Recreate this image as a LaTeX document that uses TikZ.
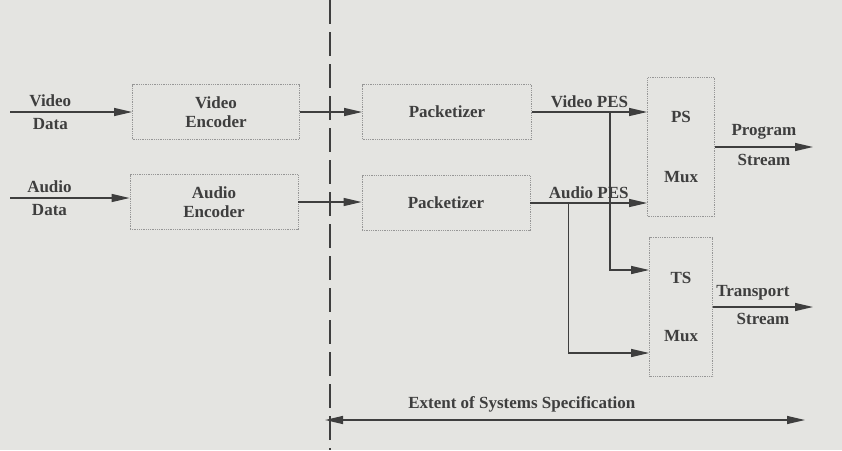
\documentclass[tikz,border=0pt]{standalone}
\usepackage{fontspec}
\setmainfont{Liberation Serif}
\usetikzlibrary{arrows.meta,positioning,calc}
\definecolor{scanPaper}{RGB}{228, 228, 225}
\definecolor{scanInk}{RGB}{62, 62, 62}
\definecolor{scanRule}{RGB}{150, 150, 150}

\begin{document}
\begin{tikzpicture}[x=1pt, y=-1pt,
    font=\fontsize{17pt}{19pt}\selectfont\bfseries,
    blockbox/.style={draw=scanRule, densely dotted, line width=0.8pt, align=center, text=scanInk, inner sep=0pt},
    flow/.style={draw=scanInk, line width=1.3pt, -{Triangle[length=18pt,width=8pt]}},
    lbl/.style={text=scanInk, inner sep=1pt}]
    \fill[scanPaper] (0,0) rectangle (842,450);
    \useasboundingbox (0,0) rectangle (842,450);

    % specification boundary
    \draw[scanInk, line width=1.5pt, dash pattern=on 24pt off 8pt] (330,0) -- (330,450);

    \node[blockbox, minimum width=167, minimum height=55] (venc) at (216,112) {Video\\Encoder};
    \node[blockbox, minimum width=168, minimum height=55] (aenc) at (214,202) {Audio\\Encoder};
    \node[blockbox, minimum width=169, minimum height=55] (vpkt) at (447,112) {Packetizer};
    \node[blockbox, minimum width=168, minimum height=55] (apkt) at (446,203) {Packetizer};
    \node[blockbox, minimum width=67, minimum height=139] (psmux) at (681,147) {PS\\[41pt]Mux};
    \node[blockbox, minimum width=63, minimum height=139] (tsmux) at (681,307) {TS\\[39pt]Mux};

    \coordinate (vin) at (10,112);
    \coordinate (ain) at (10,198);
    \draw[flow] (vin) -- (vin -| venc.west)
        node[lbl, pos=0.33, above=4pt] {Video} node[lbl, pos=0.33, below=5pt] {Data};
    \draw[flow] (ain) -- (ain -| aenc.west)
        node[lbl, pos=0.33, above=4pt] {Audio} node[lbl, pos=0.33, below=5pt] {Data};

    \draw[flow] (venc.east) -- (venc.east -| vpkt.west);
    \draw[flow] (aenc.east) -- (aenc.east -| apkt.west);

    \draw[flow] (vpkt.east) -- (vpkt.east -| psmux.west)
        node[lbl, midway, above=3pt] {Video PES};
    \draw[flow] (apkt.east) -- (apkt.east -| psmux.west)
        node[lbl, midway, above=3pt] {Audio PES};

    \path (vpkt.east) ++(78,0) coordinate (vtap);
    \path (apkt.east) ++(38,0) coordinate (atap);
    \draw[flow] (vtap) |- ([yshift=37pt]tsmux.west);
    \draw[flow] (atap) |- ([yshift=-46pt]tsmux.west);

    \coordinate (psout) at (813,147);
    \coordinate (tsout) at (813,307);
    \draw[flow] (psmux.east) -- (psout)
        node[lbl, midway, above=6pt] {Program} node[lbl, midway, below=6pt] {Stream};
    \draw[flow] (tsmux.east) -- (tsout)
        node[lbl, pos=0.4, above=5pt] {Transport} node[lbl, midway, below=5pt] {Stream};

    \coordinate (extl) at (325,420);
    \coordinate (extr) at (805,420);
    \draw[flow, {Triangle[length=18pt,width=8pt]}-{Triangle[length=18pt,width=8pt]}] (extl) -- (extr)
        node[lbl, pos=0.41, above=6pt] {Extent of Systems Specification};
\end{tikzpicture}
\end{document}
